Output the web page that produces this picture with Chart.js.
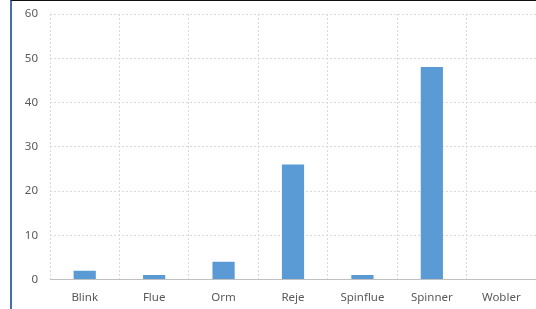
<!DOCTYPE html>
<html><head><meta charset="utf-8">
<script src="https://cdn.jsdelivr.net/npm/chart.js@4"></script>
<style>
html,body{margin:0;padding:0;background:#fff;}
#wrap{position:absolute;left:0;top:0;width:536px;height:309px;}
#frame{position:absolute;left:10px;top:0;width:526px;height:309px;border-left:2px solid #4472a8;border-top:1px solid #111;box-sizing:border-box;pointer-events:none;}
canvas{position:absolute;left:0;top:0;}
</style></head>
<body>
<div id="wrap"><canvas id="c" width="536" height="309"></canvas><div id="frame"></div></div>
<script>
const categories = ["Blink","Flue","Orm","Reje","Spinflue","Spinner","Wobler"];
const values = [2,1,4,26,1,48,0];
const yTicks = [0,10,20,30,40,50,60];

const font = {family:"'Noto Sans', 'Open Sans', sans-serif", size:11.5};
new Chart(document.getElementById('c'), {
  type:'bar',
  data:{labels:categories, datasets:[{data:values, backgroundColor:'#5b9bd5', barPercentage:0.32, categoryPercentage:1}]},
  options:{
    responsive:false, animation:false,
    layout:{padding:{top:14,right:0,left:0,bottom:0}},
    plugins:{legend:{display:false}, tooltip:{enabled:false}},
    scales:{
      x:{
        grid:{color:'#d9d9d9', drawTicks:false, offset:true},
        border:{display:true, color:'#c0c0c0', dash:[2,2]},
        ticks:{color:'#595959', font, padding:11},
        afterFit:s=>{s.height=29.5; s.paddingLeft=0; s.paddingRight=0;}
      },
      y:{
        min:0,max:60,
        afterBuildTicks:s=>{s.ticks=yTicks.map(v=>({value:v}));},
        grid:{color:'#d9d9d9', drawTicks:false},
        border:{display:false, dash:[2,2]},
        ticks:{color:'#595959', font, padding:12},
        afterFit:s=>{s.width=50; s.paddingTop=0; s.paddingBottom=0;}
      }
    }
  }
});
</script>
</body></html>
